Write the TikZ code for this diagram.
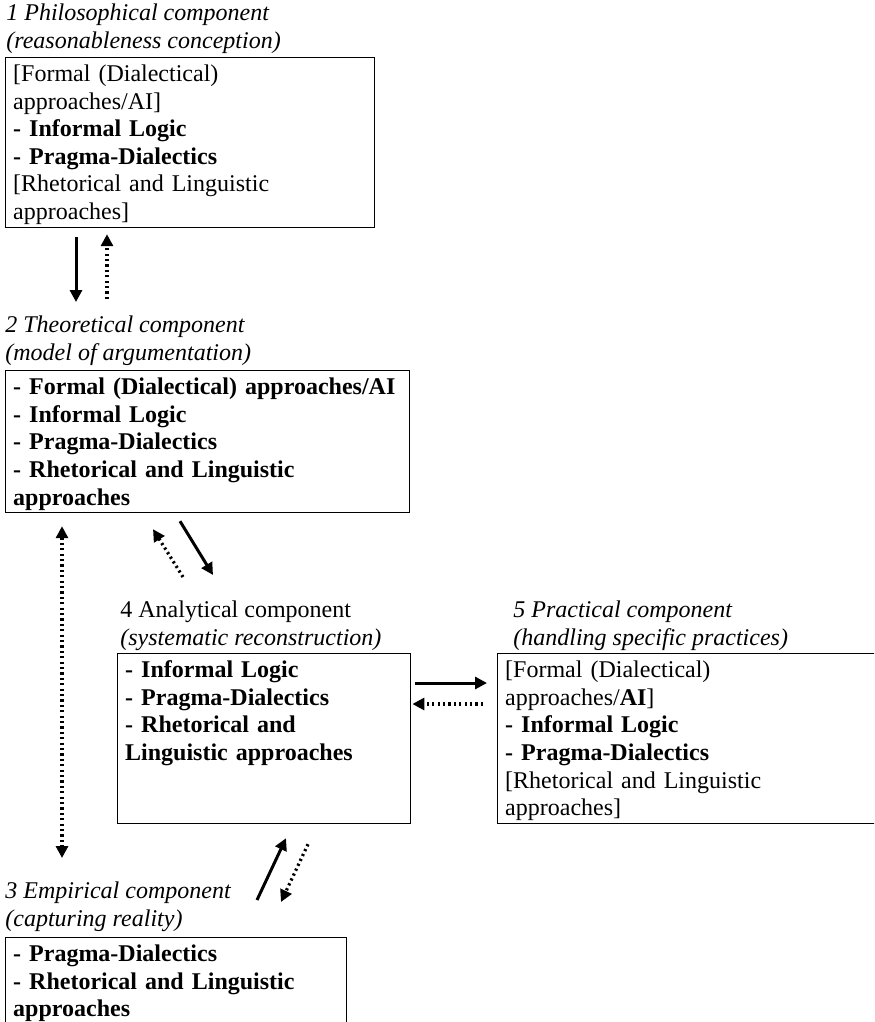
\documentclass[tikz,border=0pt]{standalone}
\usepackage{fontspec}
\setmainfont{Liberation Serif}
\usetikzlibrary{arrows.meta,positioning,calc}

\begin{document}
\begin{tikzpicture}[x=0.5pt,y=-0.5pt]
    \tikzset{
        comp/.style={draw, line width=0.6pt, anchor=north west, align=left, inner xsep=3.8pt, inner ysep=0pt,
            font=\fontsize{12}{13.8}\selectfont, text height=12pt},
        title/.style={align=left, inner sep=0pt, font=\fontsize{12}{13.8}\selectfont\itshape},
        >={Triangle[length=6pt,width=6pt]},
        arc/.style={->, line width=1.5pt},
        back/.style={->, line width=1.6pt, dash pattern=on 1.1pt off 1.6pt}
    }
    \useasboundingbox (0,0) rectangle (874,1022);
    \clip (0,0) rectangle (874,1022);

    % boxes
    \draw node[comp, text width=177pt, text depth=73pt] (c1) at (5,57)
        {[Formal (Dialectical)\\ approaches/AI]\\ \textbf{- Informal Logic}\\
         \textbf{- Pragma-Dialectics}\\ {[}Rhetorical and Linguistic\\ approaches]};
    \draw node[comp, text width=194.5pt, text depth=59pt] (c2) at (5,370)
        {\textbf{- Formal (Dialectical) approaches/AI}\\ \textbf{- Informal Logic}\\
         \textbf{- Pragma-Dialectics}\\ \textbf{- Rhetorical and Linguistic}\\ \textbf{approaches}};
    \draw node[comp, text width=139pt, text depth=73pt] (c4) at (117,653)
        {\textbf{- Informal Logic}\\ \textbf{- Pragma-Dialectics}\\
         \textbf{- Rhetorical and}\\ \textbf{Linguistic approaches}};
    \draw node[comp, text width=202pt, text depth=73pt] (c5) at (497,653)
        {[Formal (Dialectical)\\ approaches/\textbf{AI}]\\ \textbf{- Informal Logic}\\
         \textbf{- Pragma-Dialectics}\\ {[}Rhetorical and Linguistic\\ approaches]};
    \draw node[comp, text width=163pt, text depth=60pt] (c3) at (5,937)
        {\textbf{- Pragma-Dialectics}\\ \textbf{- Rhetorical and Linguistic}\\ \textbf{approaches}};

    % titles
    \node[title, above right=1.5pt and 0.5pt of c1.north west] (t1)
        {1 Philosophical component\\(reasonableness conception)};
    \node[title, above right=2pt and 0pt of c2.north west] (t2)
        {2 Theoretical component\\(model of argumentation)};
    \node[title, above right=1pt and 1.5pt of c4.north west] (t4)
        {{\upshape 4 Analytical component}\\(systematic reconstruction)};
    \node[title, above right=1pt and 8pt of c5.north west] (t5)
        {5 Practical component\\(handling specific practices)};
    \node[title, above right=2.5pt and 0pt of c3.north west] (t3)
        {3 Empirical component\\(capturing reality)};

    % arrows
    \draw[arc] ($(c1.south west)+(71,9)$) -- ($(c2.north west)+(71,-68)$);
    \draw[back] ($(c2.north west)+(102,-71)$) -- ($(c1.south west)+(102,6)$);
    \draw[back, <->] ($(c2.south west)+(57,13)$) -- ($(c3.north west)+(57,-79)$);
    \draw[arc] ($(c2.south west)+(175,8)$) -- ($(c4.north west)+(96,-78)$);
    \draw[back] ($(c4.north west)+(66,-76)$) -- ($(c2.south west)+(148,16)$);
    \draw[arc] ($(c4.north east)+(4,30)$) -- ($(c5.north west)+(-10,30)$);
    \draw[back] ($(c5.north west)+(-14,51)$) -- ($(c4.north east)+(1,51)$);
    \draw[arc] ($(c3.north west)+(252,-37)$) -- ($(c4.south west)+(169,14)$);
    \draw[back] ($(c4.south west)+(191,20)$) -- ($(c3.north west)+(276,-35)$);
\end{tikzpicture}
\end{document}
